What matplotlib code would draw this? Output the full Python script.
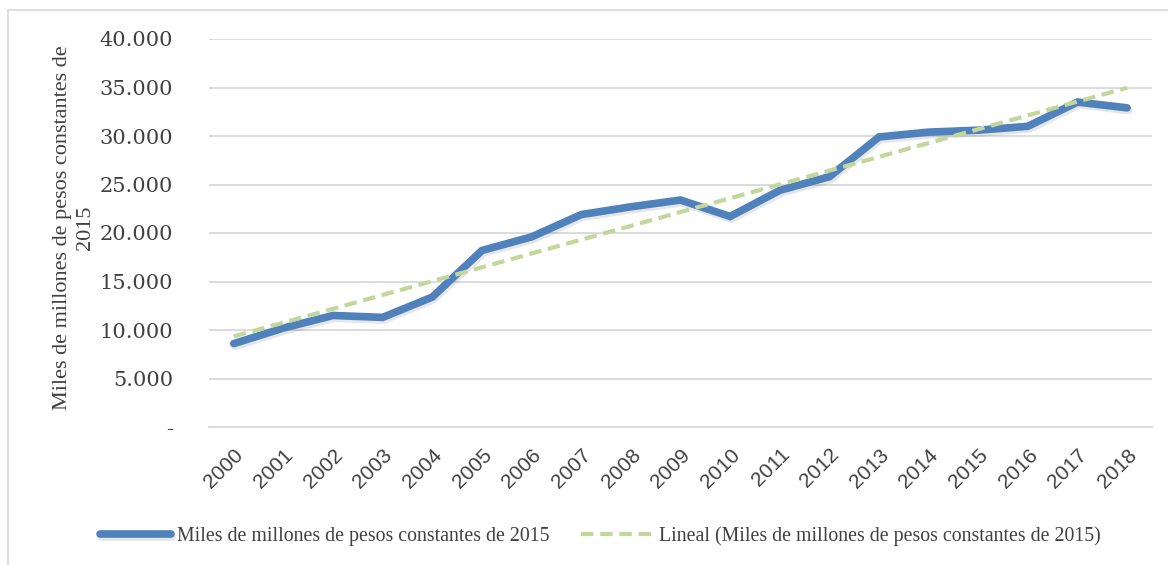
import numpy as np
import matplotlib.pyplot as plt
import matplotlib.patheffects as pe
from matplotlib.lines import Line2D
from matplotlib.ticker import FuncFormatter

plt.rcParams['font.family'] = ['Liberation Serif', 'DejaVu Serif']

years = [str(y) for y in range(2000, 2019)]
valores = [8.6, 10.2, 11.5, 11.3, 13.4, 18.2, 19.6, 21.9, 22.7, 23.4,
           21.7, 24.4, 25.8, 29.9, 30.4, 30.6, 31.0, 33.5, 32.9]
valores = [v * 1000 for v in valores]

serie_label = "Miles de millones de pesos constantes de 2015"
trend_label = "Lineal (Miles de millones de pesos constantes de 2015)"
ylabel = "Miles de millones de pesos constantes de\n2015"

# linear trend of the series
x = np.arange(len(years))
coef = np.polyfit(x, valores, 1)
tendencia = np.polyval(coef, x)

W, H = 1168, 565
fig = plt.figure(figsize=(W / 100, H / 100), dpi=100)
ax = fig.add_axes([209 / W, 1 - 427 / H, (1152 - 209) / W, (427 - 39) / H])

ax.plot(x, valores, color='#4F81BD', lw=5.5, solid_capstyle='round',
        solid_joinstyle='miter', label=serie_label,
        path_effects=[pe.SimpleLineShadow(offset=(1, -2), alpha=0.12, shadow_color='#333333'),
                      pe.Normal()])
ax.plot(x, tendencia, color='#C3D69B', lw=3, ls=(0, (3, 1.6)), label=trend_label)

ax.set_xlim(-0.5, len(years) - 0.5)
ax.set_ylim(0, 40000)
ax.set_yticks(np.arange(0, 40001, 5000))


def miles(v, pos):
    if v == 0:
        return '-'
    return f"{int(v):,}".replace(',', '.')


ax.yaxis.set_major_formatter(FuncFormatter(miles))
ax.set_xticks(x)
ax.set_xticklabels(years, rotation=45, ha='right', rotation_mode='anchor',
                   family='Liberation Sans', fontsize=15)
for lab in ax.get_yticklabels():
    lab.set_family('DejaVu Serif')
    lab.set_fontsize(15)
ax.tick_params(axis='both', length=0, colors='#404040')
ax.tick_params(axis='y', pad=26)
ax.tick_params(axis='x', pad=13)

ax.grid(axis='y', color='#D9D9D9', lw=1.3)
ax.set_axisbelow(True)
for s in ['top', 'right', 'left']:
    ax.spines[s].set_visible(False)
ax.spines['bottom'].set_color('#D9D9D9')
ax.spines['bottom'].set_linewidth(1.3)

fig.text(74 / W, 1 - 228 / H, ylabel, rotation=90, ha='center', va='center',
         fontsize=16, color='#404040', linespacing=1.3)

leg = fig.legend(*ax.get_legend_handles_labels(), loc='center',
                 bbox_to_anchor=(600 / W, 1 - 536 / H), ncol=2,
                 frameon=False, fontsize=14.3, handlelength=3.6, columnspacing=1.6,
                 handletextpad=0.3)
for t in leg.get_texts():
    t.set_color('#404040')

# chart area frame (top and left edges)
fig.add_artist(Line2D([8 / W, 1], [1 - 10 / H, 1 - 10 / H], transform=fig.transFigure,
                      color='#D9D9D9', lw=1.2))
fig.add_artist(Line2D([8 / W, 8 / W], [0, 1 - 10 / H], transform=fig.transFigure,
                      color='#D9D9D9', lw=1.2))

fig.savefig('out.png', dpi=100)
